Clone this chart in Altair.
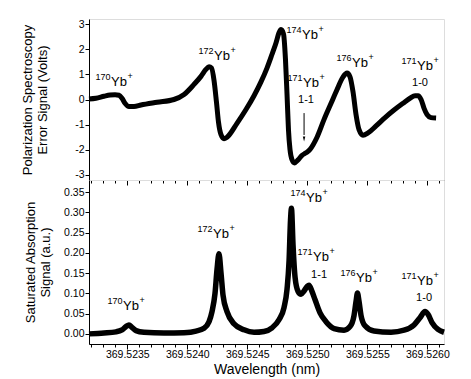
import altair as alt
import pandas as pd

NARROW = "Liberation Sans Narrow, Arial Narrow, Liberation Sans, Arial, sans-serif"
SANS = "Liberation Sans, Arial, Helvetica, sans-serif"

# ---- Polarization spectroscopy error signal (Volts) ----
top_wl = [369.523181, 369.523239, 369.523306, 369.523356, 369.523398, 369.523431,
          369.523456, 369.523481, 369.523514, 369.523556, 369.523614, 369.523748,
          369.523889, 369.523973, 369.524056, 369.524114, 369.524156, 369.524181,
          369.524202, 369.524223, 369.524243, 369.524260, 369.524281, 369.524306,
          369.524331, 369.524414, 369.524489, 369.524556, 369.524614, 369.524664,
          369.524706, 369.524739, 369.524764, 369.524781, 369.524802, 369.524818,
          369.524831, 369.524843, 369.524856, 369.524873, 369.524893, 369.524923,
          369.524956, 369.524989, 369.525023, 369.525081, 369.525139, 369.525198,
          369.525248, 369.525298, 369.525331, 369.525356, 369.525381, 369.525406,
          369.525431, 369.525464, 369.525506, 369.525573, 369.525648, 369.525723,
          369.525798, 369.525856, 369.525898, 369.525923, 369.525948, 369.525973,
          369.525998, 369.526031, 369.526073]
top_sig = [0.02, 0.05, 0.13, 0.18, 0.19, 0.17,
           0.05, -0.15, -0.28, -0.28, -0.22, -0.11,
           0.0, 0.2, 0.6, 0.92, 1.2, 1.3,
           1.25, 0.75, -0.1, -0.9, -1.4, -1.56,
           -1.5, -0.95, -0.4, 0.15, 0.7, 1.25,
           1.8, 2.25, 2.65, 2.78, 2.6, 1.6,
           0.2, -1.2, -2.0, -2.4, -2.52, -2.4,
           -2.22, -2.12, -1.98, -1.5, -0.8, -0.15,
           0.4, 0.9, 1.05, 0.9, 0.3, -0.6,
           -1.2, -1.42, -1.33, -1.05, -0.72, -0.42,
           -0.15, 0.05, 0.15, 0.15, 0.0, -0.35,
           -0.6, -0.72, -0.74]

# ---- Saturated absorption signal (a.u.) ----
bot_wl = [369.523181, 369.523306, 369.523406, 369.523456, 369.523489, 369.523514,
          369.523539, 369.523573, 369.523639, 369.523806, 369.523973, 369.524073,
          369.524139, 369.524181, 369.524206, 369.524231, 369.524248, 369.524264,
          369.524281, 369.524298, 369.524331, 369.524389, 369.524473, 369.524556,
          369.524639, 369.524706, 369.524764, 369.524806, 369.524831, 369.524848,
          369.524860, 369.524868, 369.524881, 369.524898, 369.524923, 369.524948,
          369.524973, 369.524998, 369.525014, 369.525039, 369.525064, 369.525106,
          369.525156, 369.525223, 369.525306, 369.525356, 369.525389, 369.525406,
          369.525418, 369.525431, 369.525448, 369.525481, 369.525556, 369.525698,
          369.525806, 369.525889, 369.525939, 369.525981, 369.526006, 369.526039,
          369.526089, 369.526139]
bot_sig = [0.000, 0.002, 0.005, 0.010, 0.018, 0.022,
           0.016, 0.008, 0.004, 0.002, 0.003, 0.007,
           0.014, 0.030, 0.055, 0.100, 0.160, 0.198,
           0.150, 0.095, 0.055, 0.025, 0.010, 0.004,
           0.006, 0.015, 0.035, 0.065, 0.110, 0.180,
           0.280, 0.310, 0.220, 0.140, 0.105, 0.098,
           0.106, 0.117, 0.120, 0.105, 0.085, 0.052,
           0.030, 0.013, 0.009, 0.018, 0.045, 0.080,
           0.101, 0.080, 0.045, 0.020, 0.007, 0.004,
           0.009, 0.022, 0.040, 0.055, 0.048, 0.028,
           0.011, 0.004]

# ---- axes ----
x_domain = [369.523181, 369.526139]
x_ticks = [369.5232, 369.5233, 369.5234, 369.5235, 369.5236, 369.5237, 369.5238,
           369.5239, 369.5240, 369.5241, 369.5242, 369.5243, 369.5244, 369.5245,
           369.5246, 369.5247, 369.5248, 369.5249, 369.5250, 369.5251, 369.5252,
           369.5253, 369.5254, 369.5255, 369.5256, 369.5257, 369.5258, 369.5259,
           369.5260, 369.5261]
top_y_domain = [-3.2, 3.2]
top_y_ticks = [-3, -2, -1, 0, 1, 2, 3]
bot_y_domain = [-0.025, 0.38]
bot_y_ticks = [0.0, 0.05, 0.10, 0.15, 0.20, 0.25, 0.30, 0.35]

# ---- annotations ----
iso_mass = ["170", "172", "174", "171", "176", "171"]
top_lab_wl = [369.523364, 369.524223, 369.524956, 369.524964, 369.525373, 369.525914]
top_lab_y = [0.70, 1.73, 2.57, 0.66, 1.45, 1.33]
bot_lab_wl = [369.523464, 369.524214, 369.524989, 369.525048, 369.525406, 369.525914]
bot_lab_y = [0.068, 0.246, 0.335, 0.189, 0.139, 0.130]
sub_text = ["1-1", "1-0"]
top_sub_wl = [369.524989, 369.525939]
top_sub_y = [-0.02, 0.66]
bot_sub_wl = [369.525098, 369.525973]
bot_sub_y = [0.145, 0.088]
arrow_wl = [369.524973]
arrow_y_start = [-0.54]
arrow_y_end = [-1.41]
arrow_head_y = [-1.57]

MAJOR_TEST = "abs(datum.value*2000 - round(datum.value*2000)) < 0.01"
tick_size = {"condition": {"test": MAJOR_TEST, "value": 5}, "value": 3}

W = 355

x_top = alt.X("wl:Q", scale=alt.Scale(domain=x_domain, nice=False, zero=False),
              axis=alt.Axis(values=x_ticks, labels=False, title=None, grid=False,
                            tickSize=tick_size, tickColor="black", domainColor="black"))
x_bot = alt.X("wl:Q", scale=alt.Scale(domain=x_domain, nice=False, zero=False),
              axis=alt.Axis(values=x_ticks, title="Wavelength (nm)", grid=False,
                            labelExpr=f"{MAJOR_TEST} ? format(datum.value, '.4f') : ''",
                            labelOverlap=False, labelFlush=False,
                            tickSize=tick_size, tickColor="black", domainColor="black",
                            labelFont=NARROW, labelFontSize=10.5, labelPadding=0,
                            labelColor="black",
                            titleFont=SANS, titleFontSize=14, titleFontWeight="normal",
                            titleColor="black", titleY=18, titleBaseline="top"))
y_top = alt.Y("val:Q", scale=alt.Scale(domain=top_y_domain, nice=False, zero=False),
              axis=alt.Axis(values=top_y_ticks, grid=False,
                            title=["Polarization Spectroscopy", "Error Signal (Volts)"],
                            labelExpr="(datum.value < 0 ? '-' : '') + format(abs(datum.value), 'd')",
                            tickSize=4, labelPadding=1, labelFont=NARROW, labelFontSize=10.5,
                            labelColor="black", tickColor="black", domainColor="black",
                            titleFont=SANS, titleFontSize=13, titleFontWeight="normal",
                            titleColor="black", titleX=-55, titleLineHeight=15))
y_bot = alt.Y("val:Q", scale=alt.Scale(domain=bot_y_domain, nice=False, zero=False),
              axis=alt.Axis(values=bot_y_ticks, grid=False, format=".2f",
                            title=["Saturated Absorption", "Signal (a.u.)"],
                            tickSize=4, labelPadding=1, labelFont=NARROW, labelFontSize=10.5,
                            labelColor="black", tickColor="black", domainColor="black",
                            titleFont=SANS, titleFontSize=13, titleFontWeight="normal",
                            titleColor="black", titleX=-52, titleLineHeight=15))


def labels(x_enc, y_enc, wl, yy):
    df = pd.DataFrame({"wl": wl, "val": yy, "mass": iso_mass})
    base = alt.Chart(df).encode(x=x_enc, y=y_enc)
    num = base.mark_text(align="right", baseline="middle", dx=-0.5, dy=-5, fontSize=9,
                         font=NARROW, color="black").encode(text="mass:N")
    yb = base.mark_text(align="left", baseline="middle", fontSize=13,
                        font=NARROW, color="black").encode(text=alt.value("Yb"))
    plus = base.mark_text(align="left", baseline="middle", dx=16.5, dy=-6, fontSize=9,
                          font=NARROW, color="black").encode(text=alt.value("+"))
    return [num, yb, plus]


def sublabels(x_enc, y_enc, wl, yy):
    df = pd.DataFrame({"wl": wl, "val": yy, "t": sub_text})
    return alt.Chart(df).mark_text(align="center", baseline="middle", fontSize=11,
                                   font=NARROW, color="black").encode(
        x=x_enc, y=y_enc, text="t:N")


top_line = alt.Chart(pd.DataFrame({"wl": top_wl, "val": top_sig})).mark_line(
    color="black", strokeWidth=5, interpolate="monotone").encode(x=x_top, y=y_top)
arrow_df = pd.DataFrame({"wl": arrow_wl, "val": arrow_y_start, "val2": arrow_y_end})
arrow_rule = alt.Chart(arrow_df).mark_rule(color="black", strokeWidth=1).encode(
    x=x_top, y=y_top, y2="val2:Q")
head_df = pd.DataFrame({"wl": arrow_wl, "val": arrow_head_y})
arrow_head = alt.Chart(head_df).mark_point(
    shape="M -0.5 -1 L 0.5 -1 L 0 1 Z", size=25, filled=True, color="black",
    opacity=1).encode(x=x_top, y=y_top)

top = alt.layer(top_line, *labels(x_top, y_top, top_lab_wl, top_lab_y),
                sublabels(x_top, y_top, top_sub_wl, top_sub_y),
                arrow_rule, arrow_head).properties(width=W, height=161)

bot_line = alt.Chart(pd.DataFrame({"wl": bot_wl, "val": bot_sig})).mark_line(
    color="black", strokeWidth=5.5, interpolate="monotone").encode(x=x_bot, y=y_bot)
bot = alt.layer(bot_line, *labels(x_bot, y_bot, bot_lab_wl, bot_lab_y),
                sublabels(x_bot, y_bot, bot_sub_wl, bot_sub_y)).properties(
    width=W, height=164)

chart = alt.vconcat(top, bot, spacing=0, bounds="flush").properties(
    padding={"left": 12, "top": 10, "right": 5, "bottom": 5}
).configure_view(stroke="black", strokeWidth=1).configure(background="white")

chart.save("out.html", embed_options={"renderer": "svg", "actions": False})
